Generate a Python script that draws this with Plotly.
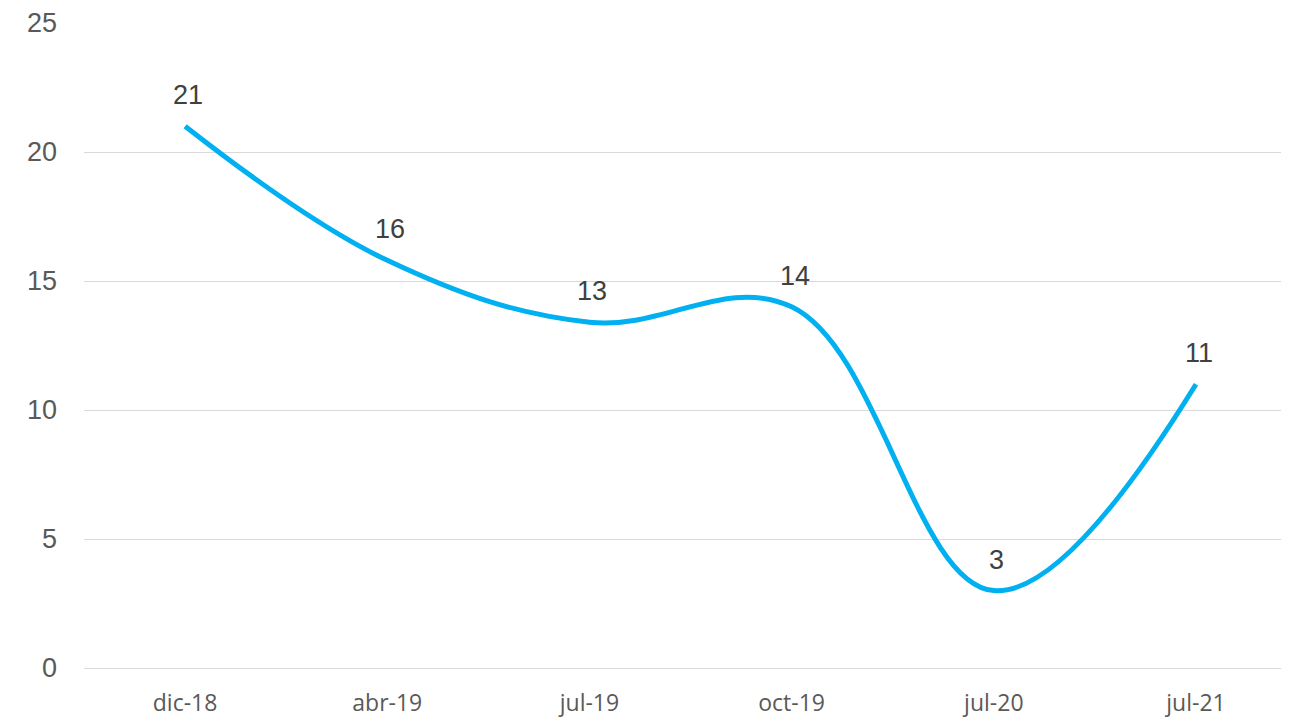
import plotly.graph_objects as go

# datos
periodos = ['dic-18', 'abr-19', 'jul-19', 'oct-19', 'jul-20', 'jul-21']
valores = [21, 15.8, 13.4, 14, 3, 11]
ticks_y = [0, 5, 10, 15, 20, 25]

fig = go.Figure()

fig.add_trace(go.Scatter(x=periodos, y=valores,
                         mode='lines',
                         line=dict(color='#00B0F0', width=5, shape='spline', smoothing=1.1),
                         hoverinfo='skip'))

# etiquetas de datos encima de cada punto
for p, v in zip(periodos, valores):
    fig.add_annotation(x=p, y=v, text=f'{v:.0f}', showarrow=False,
                       yshift=31, xshift=3,
                       font=dict(family='Liberation Sans, Arial', size=27, color='#404040'))

# la página tiene 8px de margen en el body
fig.update_layout(width=1281, height=713,
                  margin=dict(l=76, r=0, t=15, b=53),
                  plot_bgcolor='white', paper_bgcolor='white',
                  showlegend=False)

fig.update_xaxes(range=[-0.5, 5.46], showgrid=False, showline=False,
                 automargin=False, ticks='', ticklabelstandoff=19,
                 tickfont=dict(family='Open Sans', size=23, color='#595959'))

fig.update_yaxes(range=[0, 25], tickvals=ticks_y,
                 gridcolor='#d9d9d9', gridwidth=1,
                 zeroline=True, zerolinecolor='#d9d9d9', zerolinewidth=1,
                 showline=False, automargin=False, ticks='', ticklabelstandoff=26,
                 tickfont=dict(family='Liberation Sans, Arial', size=27, color='#595959'))

fig.write_html('out.html')
